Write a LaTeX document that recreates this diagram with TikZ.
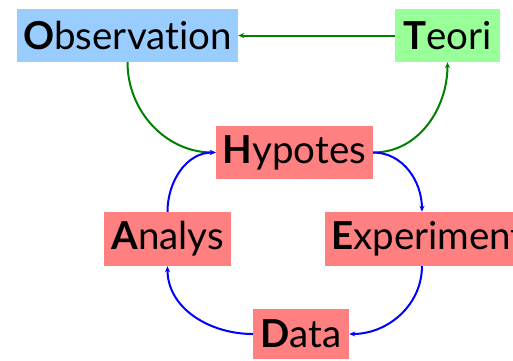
\documentclass[tikz,border=0pt]{standalone}
\usepackage{fontspec}
\setmainfont{Lato}[Ligatures=NoCommon]
\usetikzlibrary{arrows.meta}
\definecolor{obsblue}{RGB}{153,204,255}
\definecolor{teogreen}{RGB}{153,255,153}
\definecolor{hyppink}{RGB}{255,128,128}
\definecolor{arrgreen}{RGB}{0,128,0}

\begin{document}
\begin{tikzpicture}[x=1pt, y=1pt,
		box/.style={inner sep=0pt, minimum height=53pt, font=\fontsize{38.5pt}{38.5pt}\selectfont},
		pinkbox/.style={box, fill=hyppink},
		garrow/.style={draw=arrgreen, line width=2pt, -{Stealth[length=6pt,width=5pt]}},
		barrow/.style={draw=blue, line width=2pt, -{Stealth[length=6pt,width=5pt]}}]
			\useasboundingbox (0,0) rectangle (513,360);
			\clip (0,0) rectangle (513,360);
			% upper row
			\node[box, fill=obsblue, minimum width=221pt] (obs) at (127.5,324.5) {\textbf{O}bservation};
			\node[box, fill=teogreen, minimum width=105pt] (teo) at (447.5,324.5) {\textbf{T}eori};
			% cycle
			\node[pinkbox, minimum width=157pt] (hyp) at (294.5,207.5) {\textbf{H}ypotes};
			\node[pinkbox, minimum width=127pt, minimum height=54pt] (ana) at (167.5,121) {\textbf{A}nalys};
			\node[pinkbox, minimum height=54pt, inner xsep=6pt, anchor=west] (exp) at (325,121) {\textbf{E}xperiment};
			\node[pinkbox, minimum width=96pt, minimum height=50pt] (dat) at (301,26) {\textbf{D}ata};

			\draw[garrow] (teo) -- (obs);
			\draw[garrow] (obs.south) to[out=-90, in=180] (hyp.west);
			\draw[garrow] (hyp.east) to[out=0, in=-90] (teo.south);
			\draw[barrow] (hyp.east) to[out=0, in=90] ([xshift=-6pt]exp.north);
			\draw[barrow] ([xshift=-6pt]exp.south) to[out=-90, in=0] (dat.east);
			\draw[barrow] (dat.west) to[out=180, in=-90] (ana.south);
			\draw[barrow] (ana.north) to[out=90, in=180] (hyp.west);
		\end{tikzpicture}
\end{document}
